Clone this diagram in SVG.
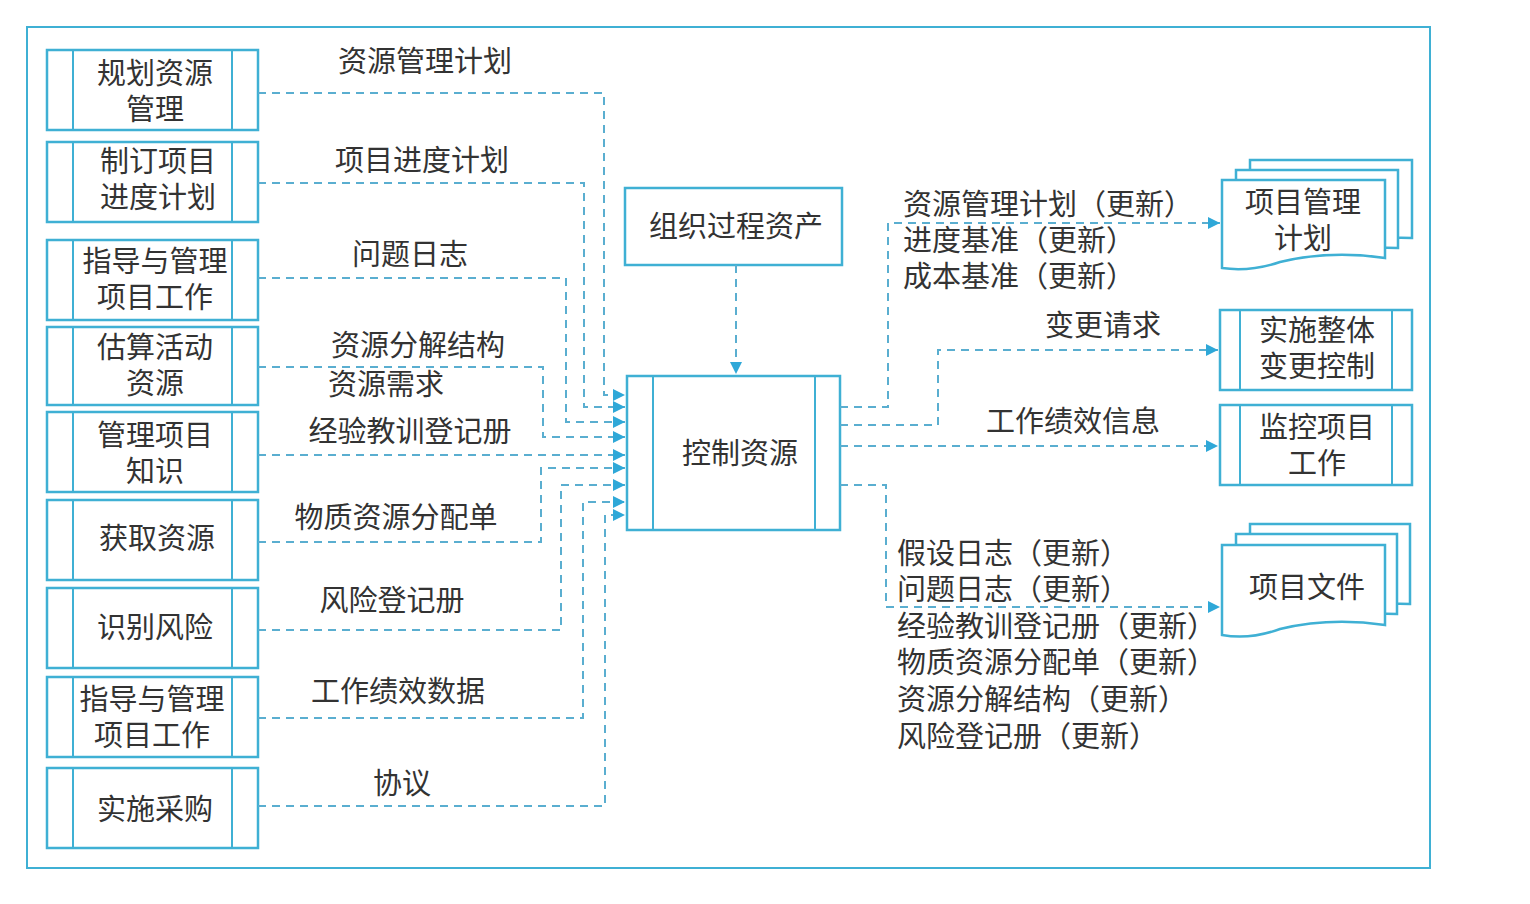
<svg xmlns="http://www.w3.org/2000/svg" width="1530" height="904" viewBox="0 0 1530 904">
<defs>
<style>
.b{fill:#fff;stroke:#3fb0d4;stroke-width:2.5}
.l{fill:none;stroke:#3fb0d4;stroke-width:2}
.c{fill:none;stroke:#5aaed0;stroke-width:2;stroke-dasharray:8,6}
text{font-family:"Noto Sans CJK SC","Noto Sans",sans-serif;font-size:29px;fill:#333}
.m{text-anchor:middle}
</style>
<marker id="a" viewBox="0 0 10 10" refX="10" refY="5" markerWidth="6" markerHeight="6" orient="auto"><path d="M0,0L10,5L0,10z" fill="#2fa8d8"/></marker>
</defs>
<rect x="0" y="0" width="1530" height="904" fill="#fff"/>
<rect x="27" y="27" width="1403" height="841" class="l"/>
<g id="n1"><rect x="47" y="50" width="211" height="80" class="b"/><path d="M73 50V130M232 50V130" class="l"/><text x="155" y="84" class="m">规划资源</text><text x="155" y="120" class="m">管理</text></g>
<g id="n2"><rect x="47" y="142" width="211" height="80" class="b"/><path d="M73 142V222M232 142V222" class="l"/><text x="158" y="172" class="m">制订项目</text><text x="158" y="208" class="m">进度计划</text></g>
<g id="n3"><rect x="47" y="240" width="211" height="80" class="b"/><path d="M73 240V320M232 240V320" class="l"/><text x="155" y="272" class="m">指导与管理</text><text x="155" y="308" class="m">项目工作</text></g>
<g id="n4"><rect x="47" y="327" width="211" height="78" class="b"/><path d="M73 327V405M232 327V405" class="l"/><text x="155" y="358" class="m">估算活动</text><text x="155" y="394" class="m">资源</text></g>
<g id="n5"><rect x="47" y="412" width="211" height="80" class="b"/><path d="M73 412V492M232 412V492" class="l"/><text x="155" y="446" class="m">管理项目</text><text x="155" y="482" class="m">知识</text></g>
<g id="n6"><rect x="47" y="500" width="211" height="80" class="b"/><path d="M73 500V580M232 500V580" class="l"/><text x="157" y="549" class="m">获取资源</text></g>
<g id="n7"><rect x="47" y="588" width="211" height="80" class="b"/><path d="M73 588V668M232 588V668" class="l"/><text x="155" y="638" class="m">识别风险</text></g>
<g id="n8"><rect x="47" y="677" width="211" height="80" class="b"/><path d="M73 677V757M232 677V757" class="l"/><text x="152" y="710" class="m">指导与管理</text><text x="152" y="746" class="m">项目工作</text></g>
<g id="n9"><rect x="47" y="768" width="211" height="80" class="b"/><path d="M73 768V848M232 768V848" class="l"/><text x="155" y="820" class="m">实施采购</text></g>
<g id="opa"><rect x="625" y="188" width="217" height="77" class="b"/><text x="736" y="237" class="m">组织过程资产</text></g>
<g id="ctl"><rect x="627" y="376" width="213" height="154" class="b"/><path d="M653 376V530M815 376V530" class="l"/><text x="740" y="464" class="m">控制资源</text></g>
<g id="pmp"><path d="M1250 160H1412V238Q1380 236 1250 248Z" class="b"/><path d="M1236 170H1398V248Q1366 246 1236 258Z" class="b"/><path d="M1222 180H1385V258Q1330 250 1280 262Q1250 272 1222 268Z" class="b"/><text x="1303" y="213" class="m">项目管理</text><text x="1303" y="249" class="m">计划</text></g>
<g id="icc"><rect x="1220" y="310" width="192" height="80" class="b"/><path d="M1240 310V390M1392 310V390" class="l"/><text x="1317" y="341" class="m">实施整体</text><text x="1317" y="377" class="m">变更控制</text></g>
<g id="mpw"><rect x="1220" y="405" width="192" height="80" class="b"/><path d="M1240 405V485M1392 405V485" class="l"/><text x="1317" y="438" class="m">监控项目</text><text x="1317" y="474" class="m">工作</text></g>
<g id="pd"><path d="M1250 524H1410V604Q1380 602 1250 614Z" class="b"/><path d="M1236 534H1397V614Q1366 612 1236 624Z" class="b"/><path d="M1222 545H1385V625Q1330 617 1280 629Q1250 640 1222 635Z" class="b"/><text x="1307" y="598" class="m">项目文件</text></g>
<g id="connectors">
<path d="M258 93H604V395H625" class="c" marker-end="url(#a)"/>
<path d="M258 183H584V407H625" class="c" marker-end="url(#a)"/>
<path d="M258 278H566V422H625" class="c" marker-end="url(#a)"/>
<path d="M258 367H543V437H625" class="c" marker-end="url(#a)"/>
<path d="M258 455H625" class="c" marker-end="url(#a)"/>
<path d="M258 542H541V468H625" class="c" marker-end="url(#a)"/>
<path d="M258 630H561V485H625" class="c" marker-end="url(#a)"/>
<path d="M258 718H583V502H625" class="c" marker-end="url(#a)"/>
<path d="M258 806H605V515H625" class="c" marker-end="url(#a)"/>
<path d="M736 265V374" class="c" marker-end="url(#a)"/>
<path d="M840 407H888V223H1220" class="c" marker-end="url(#a)"/>
<path d="M840 425H938V350H1218" class="c" marker-end="url(#a)"/>
<path d="M840 446H1218" class="c" marker-end="url(#a)"/>
<path d="M840 485H886V607H1220" class="c" marker-end="url(#a)"/>
</g>
<g id="labels">
<text x="425" y="72" class="m">资源管理计划</text>
<text x="422" y="171" class="m">项目进度计划</text>
<text x="410" y="265" class="m">问题日志</text>
<text x="418" y="356" class="m">资源分解结构</text>
<text x="386" y="395" class="m">资源需求</text>
<text x="410" y="442" class="m">经验教训登记册</text>
<text x="396" y="528" class="m">物质资源分配单</text>
<text x="392" y="611" class="m">风险登记册</text>
<text x="398" y="702" class="m">工作绩效数据</text>
<text x="402" y="794" class="m">协议</text>
<text x="903" y="215">资源管理计划（更新）</text>
<text x="903" y="251">进度基准（更新）</text>
<text x="903" y="287">成本基准（更新）</text>
<text x="1103" y="336" class="m">变更请求</text>
<text x="1073" y="432" class="m">工作绩效信息</text>
<text x="897" y="564">假设日志（更新）</text>
<text x="897" y="600">问题日志（更新）</text>
<text x="897" y="637">经验教训登记册（更新）</text>
<text x="897" y="673">物质资源分配单（更新）</text>
<text x="897" y="710">资源分解结构（更新）</text>
<text x="897" y="747">风险登记册（更新）</text>
</g>
</svg>
